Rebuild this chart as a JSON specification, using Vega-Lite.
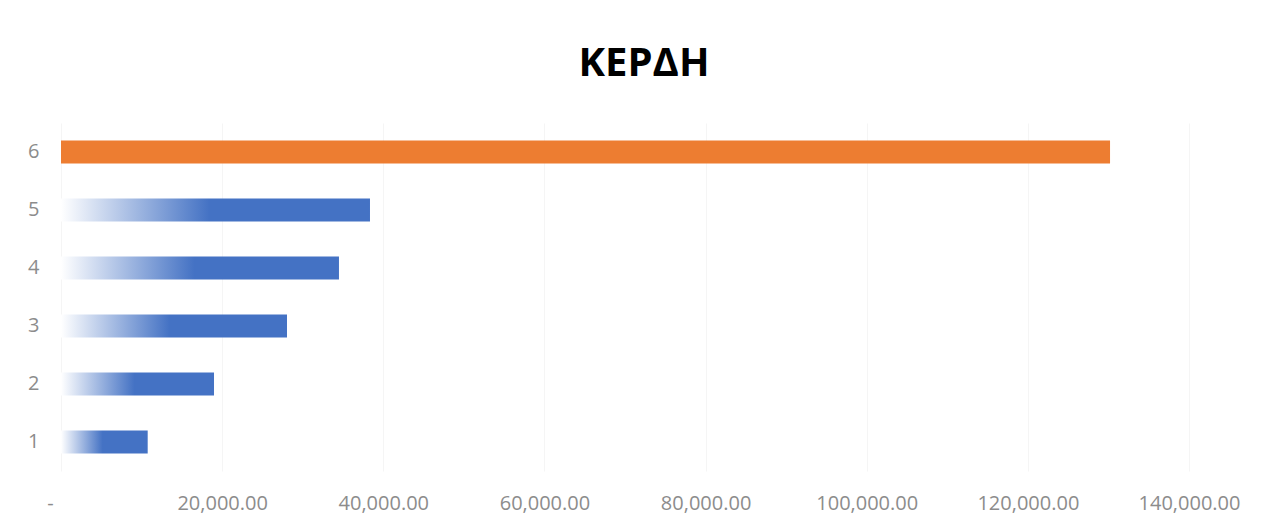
{
  "$schema": "https://vega.github.io/schema/vega-lite/v6.json",
  "width": 1128,
  "height": 348,
  "autosize": {"type": "none"},
  "padding": {"left": 61, "top": 123, "right": 74, "bottom": 58},
  "background": "white",
  "title": {
    "text": "ΚΕΡΔΗ",
    "font": "Open Sans",
    "fontSize": 40,
    "fontWeight": "bold",
    "color": "#000000",
    "anchor": "middle",
    "baseline": "alphabetic",
    "offset": 7,
    "dx": 19
  },
  "data": {
    "values": [
      {"cat": 1, "profit": 10760},
      {"cat": 2, "profit": 18990},
      {"cat": 3, "profit": 28050},
      {"cat": 4, "profit": 34500},
      {"cat": 5, "profit": 38350},
      {"cat": 6, "profit": 130200}
    ]
  },
  "encoding": {
    "y": {
      "field": "cat",
      "type": "nominal",
      "sort": "descending",
      "scale": {"paddingInner": 0, "paddingOuter": 0},
      "axis": {
        "title": null,
        "domain": false,
        "ticks": false,
        "labelPadding": 22,
        "labelFont": "Open Sans",
        "labelFontSize": 20,
        "labelColor": "#8c8c8c",
        "labelAngle": 0
      }
    },
    "x": {
      "field": "profit",
      "type": "quantitative",
      "scale": {"domain": [0, 140000], "nice": false},
      "axis": {
        "title": null,
        "domain": false,
        "ticks": false,
        "grid": true,
        "gridColor": "#f5f5f5",
        "gridWidth": 1,
        "values": [0, 20000, 40000, 60000, 80000, 100000, 120000, 140000],
        "labelExpr": "datum.value == 0 ? '-' : format(datum.value, ',.2f')",
        "labelOffset": {"condition": {"test": "datum.value == 0", "value": -11}, "value": 0},
        "labelFont": "Open Sans",
        "labelFontSize": 20,
        "labelColor": "#8c8c8c",
        "labelBaseline": "middle",
        "labelPadding": 32,
        "labelFlush": false,
        "labelOverlap": false
      }
    }
  },
  "layer": [
    {
      "transform": [{"filter": "datum.cat != 6"}],
      "mark": {
        "type": "bar",
        "height": 23,
        "fill": {
          "gradient": "linear",
          "x1": 0, "y1": 0, "x2": 1, "y2": 0,
          "stops": [
            {"offset": 0, "color": "#ffffff"},
            {"offset": 0.48, "color": "#4472C4"},
            {"offset": 1, "color": "#4472C4"}
          ]
        }
      }
    },
    {
      "transform": [{"filter": "datum.cat == 6"}],
      "mark": {"type": "bar", "height": 23, "fill": "#ED7D31"}
    }
  ],
  "config": {"view": {"stroke": null}}
}
